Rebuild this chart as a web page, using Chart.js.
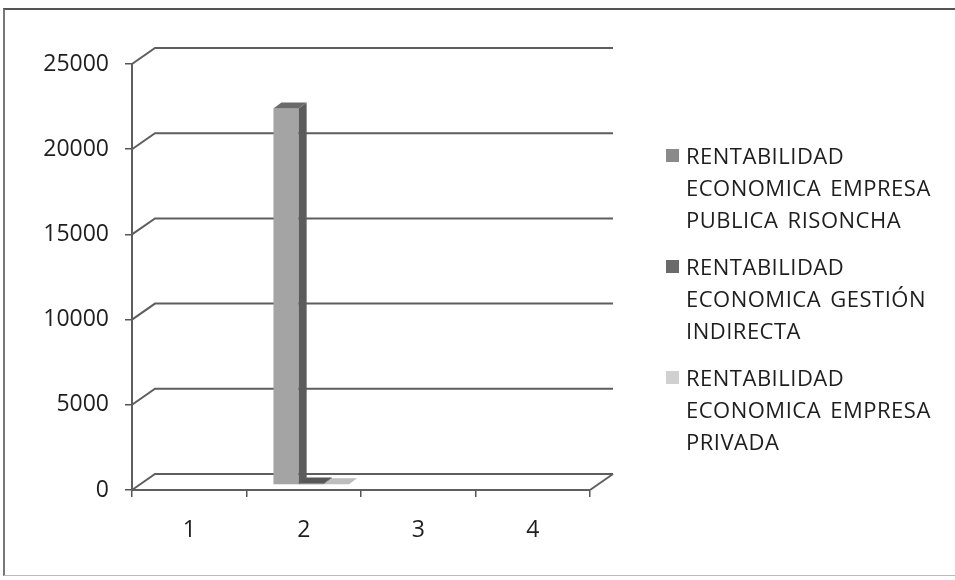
<!DOCTYPE html>
<html>
<head>
<meta charset="utf-8">
<script src="https://cdn.jsdelivr.net/npm/chart.js@4/dist/chart.umd.min.js"></script>
<style>
  html, body { margin: 0; padding: 0; background: #fff; }
  #wrap { position: relative; width: 955px; height: 580px; overflow: hidden; }
  #frame { position: absolute; left: 3px; top: 8px; width: 960px; height: 568px;
           border-top: 2px solid #555; border-left: 2px solid #777; border-bottom: 1px solid #bbb; box-sizing: border-box; }
  canvas { position: absolute; left: 0; top: 0; }
  #legend { position: absolute; left: 665px; top: 139px; width: 285px;
            font-family: "Open Sans", sans-serif; font-size: 22px; color: #1e1e1e; }
  .item { position: relative; padding-left: 21px; line-height: 32px; margin-bottom: 15px; letter-spacing: 0.5px; word-spacing: 3px; }
  .mark { position: absolute; left: 1px; top: 10px; width: 13px; height: 13px; }
</style>
</head>
<body>
<div id="wrap">
  <div id="frame"></div>
  <canvas id="c" width="955" height="580"></canvas>
  <div id="legend"></div>
</div>
<script>
const categories = ['1', '2', '3', '4'];
const seriesNames = [
  'RENTABILIDAD ECONOMICA EMPRESA PUBLICA RISONCHA',
  'RENTABILIDAD ECONOMICA GESTIÓN INDIRECTA',
  'RENTABILIDAD ECONOMICA EMPRESA PRIVADA'
];
const publicaRisoncha = [0, 22100, 0, 0];
const gestionIndirecta = [0, 90, 0, 0];
const empresaPrivada = [0, 40, 0, 0];
const yTicks = [0, 5000, 10000, 15000, 20000, 25000];

const frontColors = ['#a4a4a4', '#6e6e6e', '#d4d4d4'];
const sideColors  = ['#5c5c5c', '#4a4a4a', '#a8a8a8'];
const topColors   = ['#6a6a6a', '#585858', '#bdbdbd'];
const legendColors = ['#8a8a8a', '#6a6a6a', '#d0d0d0'];

// 3D geometry (pixels)
const WALL_DX = 23, WALL_DY = -16;   // back wall offset
const BAR_DX = 7.5, BAR_DY = -5;     // bar plane offset
const SIDE_DX = 8, SIDE_DY = -6;     // bar depth

const threeD = {
  id: 'threeD',
  beforeDatasetsDraw(chart) {
    const ctx = chart.ctx, y = chart.scales.y, a = chart.chartArea;
    ctx.save();
    ctx.strokeStyle = '#5e5e5e';
    ctx.lineWidth = 2;
    yTicks.forEach(v => {
      const py = y.getPixelForValue(v);
      ctx.beginPath();
      ctx.moveTo(a.left, py);
      ctx.lineTo(a.left + WALL_DX, py + WALL_DY);
      ctx.lineTo(a.right + WALL_DX, py + WALL_DY);
      ctx.stroke();
    });
    const p0 = y.getPixelForValue(0);
    ctx.beginPath();
    ctx.moveTo(a.right, p0);
    ctx.lineTo(a.right + WALL_DX, p0 + WALL_DY);
    ctx.stroke();
    ctx.restore();
  },
  beforeDatasetDraw(chart) {
    chart.ctx.save();
    chart.ctx.translate(BAR_DX, BAR_DY);
  },
  afterDatasetDraw(chart) {
    chart.ctx.restore();
  },
  afterDatasetsDraw(chart) {
    const ctx = chart.ctx;
    ctx.save();
    ctx.translate(BAR_DX, BAR_DY);
    chart.data.datasets.forEach((ds, di) => {
      const meta = chart.getDatasetMeta(di);
      meta.data.forEach((bar, i) => {
        if (!ds.data[i]) return;
        const p = bar.getProps(['x', 'y', 'base', 'width'], true);
        const l = p.x - p.width / 2, r = p.x + p.width / 2;
        ctx.fillStyle = sideColors[di];
        ctx.beginPath();
        ctx.moveTo(r, p.y); ctx.lineTo(r + SIDE_DX, p.y + SIDE_DY);
        ctx.lineTo(r + SIDE_DX, p.base + SIDE_DY); ctx.lineTo(r, p.base);
        ctx.closePath(); ctx.fill();
        ctx.fillStyle = topColors[di];
        ctx.beginPath();
        ctx.moveTo(l, p.y); ctx.lineTo(r, p.y);
        ctx.lineTo(r + SIDE_DX, p.y + SIDE_DY); ctx.lineTo(l + SIDE_DX, p.y + SIDE_DY);
        ctx.closePath(); ctx.fill();
      });
    });
    ctx.restore();
  }
};

const seriesData = [publicaRisoncha, gestionIndirecta, empresaPrivada];
const chart = new Chart(document.getElementById('c'), {
  type: 'bar',
  data: {
    labels: categories,
    datasets: seriesData.map((d, i) => ({
      label: seriesNames[i],
      data: d,
      backgroundColor: frontColors[i],
      borderWidth: 0,
      barPercentage: 1.0,
      categoryPercentage: 0.66
    }))
  },
  options: {
    responsive: false,
    devicePixelRatio: 1,
    animation: false,
    layout: { padding: { left: 4, right: 365, top: 64, bottom: 0 } },
    plugins: { legend: { display: false }, tooltip: { enabled: false } },
    scales: {
      x: {
        grid: { display: true, drawOnChartArea: false, drawTicks: true, tickLength: 7, color: '#555', lineWidth: 1.5, offset: true },
        border: { display: true, color: '#5e5e5e', width: 2 },
        ticks: { font: { family: 'Open Sans', size: 23 }, color: '#1e1e1e', padding: 20 },
        afterFit(s) { s.height = 90; }
      },
      y: {
        min: 0, max: 25000,
        afterBuildTicks(s) { s.ticks = yTicks.map(v => ({ value: v })); },
        grid: { display: true, drawOnChartArea: false, drawTicks: true, tickLength: 7, color: '#555', lineWidth: 1.5 },
        border: { display: true, color: '#5e5e5e', width: 2 },
        ticks: { font: { family: 'Open Sans', size: 23 }, color: '#1e1e1e', padding: 16,
                 callback: v => String(v) },
        afterFit(s) { s.width = 128; }
      }
    }
  },
  plugins: [threeD]
});

const lg = document.getElementById('legend');
chart.data.datasets.forEach((ds, i) => {
  const it = document.createElement('div');
  it.className = 'item';
  const m = document.createElement('span');
  m.className = 'mark';
  m.style.background = legendColors[i];
  it.appendChild(m);
  it.appendChild(document.createTextNode(ds.label));
  lg.appendChild(it);
});
</script>
</body>
</html>
